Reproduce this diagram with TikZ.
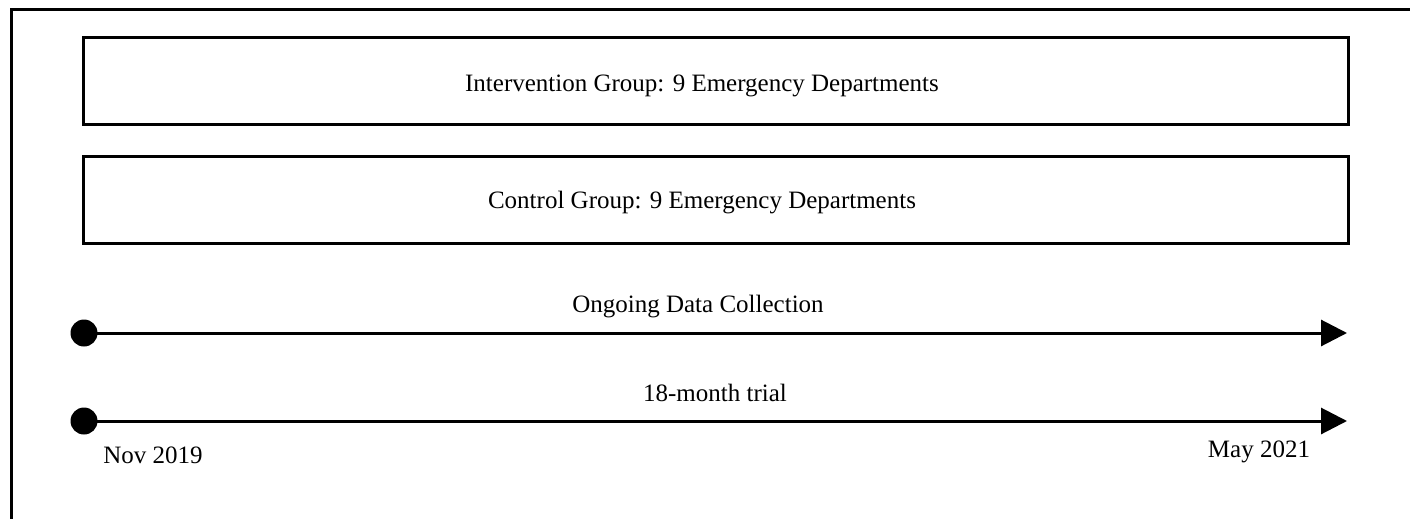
\documentclass[tikz,border=0pt]{standalone}
\usepackage{fontspec}
\setmainfont{Liberation Serif}
\usetikzlibrary{arrows.meta}
\begin{document}
\begin{tikzpicture}[x=1pt,y=-1pt,
  grpbox/.style={draw,line width=3pt,minimum width=1265pt,minimum height=87pt,inner sep=0pt},
  lbl/.style={font=\fontsize{25}{30}\selectfont,inner sep=0pt,anchor=base},
  tl/.style={line width=3pt,-{Triangle[length=26pt,width=26pt]}},
  dot/.style={circle,fill,minimum size=27pt,inner sep=0pt}]
\clip (0,0) rectangle (1410,519);
\draw[line width=3pt] (11,10) rectangle (1440,560);
\node[grpbox] (int) at (715.5,81) {};
\node[lbl] (inttext) at (702,91) {Intervention Group: 9 Emergency Departments};
\node[grpbox] (ctl) at (715.5,199.5) {};
\node[lbl] (ctltext) at (702,208) {Control Group: 9 Emergency Departments};
\node[dot] (d1) at (84,333) {};
\coordinate (e1) at (1347,333);
\draw[tl] (d1.center) -- (e1);
\node[lbl] (ong) at (698,312) {Ongoing Data Collection};
\node[dot] (d2) at (84,421) {};
\coordinate (e2) at (1347,421);
\draw[tl] (d2.center) -- (e2);
\node[lbl] (trial) at (715,401) {18-month trial};
\node[lbl] (nov) at (153,463) {Nov 2019};
\node[lbl] (may) at (1259,457) {May 2021};
\end{tikzpicture}
\end{document}
